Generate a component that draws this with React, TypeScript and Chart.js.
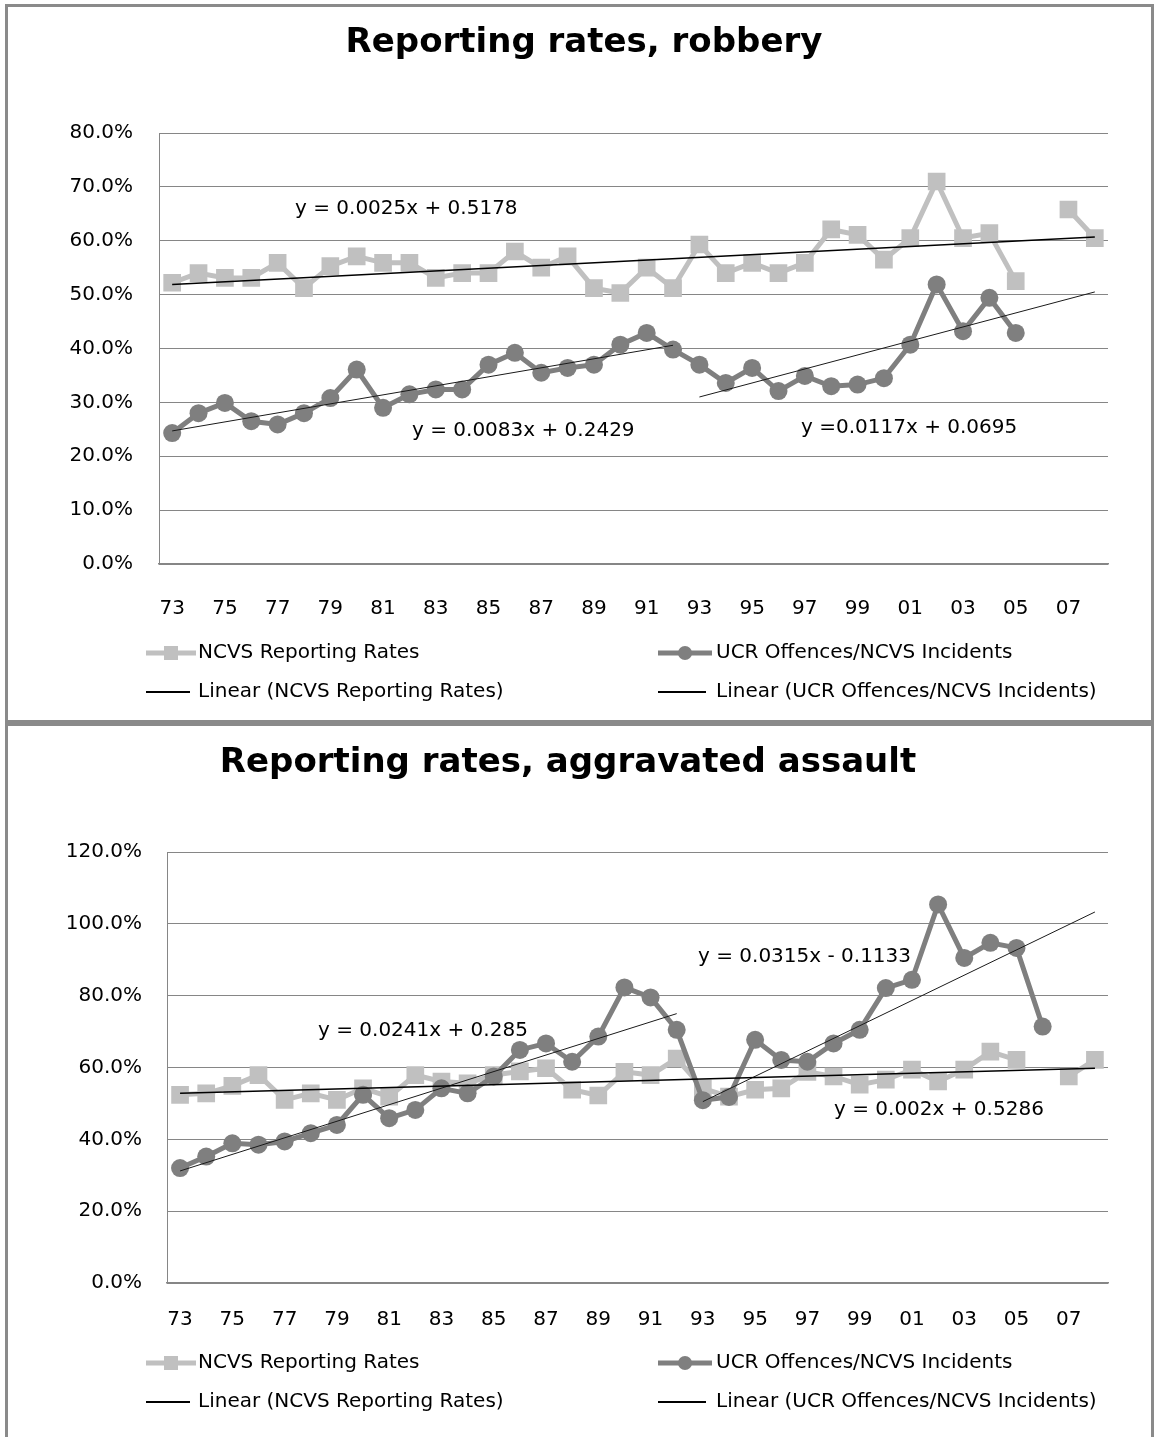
import React, { useEffect, useRef } from 'react';
import { Chart, registerables } from 'chart.js';

Chart.register(...registerables);

// ---------- data ----------
const years = ['73', '74', '75', '76', '77', '78', '79', '80', '81', '82', '83', '84', '85', '86', '87', '88', '89', '90', '91', '92', '93', '94', '95', '96', '97', '98', '99', '00', '01', '02', '03', '04', '05', '06', '07', '08'];
const labeledYears = ['73', '75', '77', '79', '81', '83', '85', '87', '89', '91', '93', '95', '97', '99', '01', '03', '05', '07'];

const robberyTicks = [0, 10, 20, 30, 40, 50, 60, 70, 80];
const assaultTicks = [0, 20, 40, 60, 80, 100, 120];

const robberyNcvs = [52.2, 54.0, 53.1, 53.1, 55.9, 51.2, 55.3, 57.1, 55.9, 55.9, 53.1, 54.0, 54.0, 58.0, 55.0, 57.1, 51.2, 50.3, 55.0, 51.2, 59.3, 54.0, 55.9, 54.0, 55.9, 62.1, 61.1, 56.5, 60.5, 71.0, 60.5, 61.4, 52.5, null, 65.8, 60.5];
const robberyUcr = [24.3, 28.0, 29.9, 26.5, 25.9, 28.0, 30.8, 36.1, 29.0, 31.5, 32.4, 32.4, 37.0, 39.2, 35.5, 36.4, 37.0, 40.7, 42.9, 39.8, 37.0, 33.6, 36.4, 32.1, 34.9, 33.0, 33.3, 34.5, 40.7, 51.9, 43.2, 49.4, 42.9, null, null, null];

const assaultNcvs = [52.4, 52.8, 54.9, 57.9, 51.0, 52.8, 51.0, 54.2, 51.9, 57.9, 56.1, 55.6, 57.9, 58.9, 59.8, 53.8, 52.2, 58.8, 57.9, 62.5, 54.2, 51.9, 53.8, 54.2, 58.8, 57.5, 55.2, 56.6, 59.4, 56.1, 59.4, 64.4, 62.1, null, 57.5, 62.1];
const assaultUcr = [32.0, 35.2, 38.9, 38.5, 39.4, 41.7, 44.0, 52.4, 45.9, 48.2, 54.2, 52.8, 57.5, 64.9, 66.7, 61.6, 68.6, 82.3, 79.5, 70.5, 50.9, 51.8, 67.7, 62.1, 61.6, 66.7, 70.5, 82.1, 84.4, 105.4, 90.5, 94.7, 93.3, 71.4, null, null];

// trend line end points [year, value]
const robberyNcvsTrend: [string, number][] = [['73', 51.9], ['08', 60.7]];
const robberyUcrTrendA: [string, number][] = [['73', 24.7], ['92', 40.6]];
const robberyUcrTrendB: [string, number][] = [['93', 31.0], ['08', 50.5]];
const assaultNcvsTrend: [string, number][] = [['73', 52.8], ['08', 59.8]];
const assaultUcrTrendA: [string, number][] = [['73', 31.2], ['92', 75.0]];
const assaultUcrTrendB: [string, number][] = [['93', 50.5], ['08', 103.3]];

const robberyEquations = ['y = 0.0025x + 0.5178', 'y = 0.0083x + 0.2429', 'y =0.0117x + 0.0695'];
const assaultEquations = ['y = 0.0241x + 0.285', 'y = 0.0315x - 0.1133', 'y = 0.002x + 0.5286'];

const ncvsLabel = 'NCVS Reporting Rates';
const ucrLabel = 'UCR Offences/NCVS Incidents';
const ncvsTrendLabel = 'Linear (NCVS Reporting Rates)';
const ucrTrendLabel = 'Linear (UCR Offences/NCVS Incidents)';

// ---------- styles ----------
const FONT = '"DejaVu Sans", sans-serif';
const ncvsColor = '#c0c0c0';
const ucrColor = '#7f7f7f';
const gridColor = '#868686';
const frameColor = '#8a8a8a';

function segment(points: [string, number][]) {
  const arr: (number | null)[] = years.map(() => null);
  points.forEach(([y, v]) => {
    arr[years.indexOf(y)] = v;
  });
  return arr;
}

type Spec = {
  title: string;
  titleX: number;
  titleY: number;
  ticks: number[];
  ncvs: (number | null)[];
  ucr: (number | null)[];
  ncvsTrend: [string, number][];
  ucrTrendA: [string, number][];
  ucrTrendB: [string, number][];
  equations: string[];
  eqPos: { x: number; y: number }[];
  height: number;
  areaTop: number;
  areaBottom: number;
  areaLeft: number;
  areaRight: number;
  yTickPadding: number;
  xTickPadding: number;
  legendRows: number[];
};

function makeDecor(spec: Spec) {
  return {
    id: 'decor',
    afterDraw(chart: any) {
      const ctx = chart.ctx as CanvasRenderingContext2D;
      ctx.save();
      // title
      ctx.fillStyle = '#000';
      ctx.font = `bold 34px ${FONT}`;
      ctx.textAlign = 'center';
      ctx.textBaseline = 'alphabetic';
      ctx.fillText(spec.title, spec.titleX, spec.titleY);
      // trend equations
      ctx.font = `20px ${FONT}`;
      ctx.textAlign = 'left';
      ctx.textBaseline = 'middle';
      spec.equations.forEach((t, i) => ctx.fillText(t, spec.eqPos[i].x, spec.eqPos[i].y));
      // legend
      const ds = chart.data.datasets;
      const items = [
        { label: ds[2].label, kind: 'ncvs', col: 0, row: 0 },
        { label: ds[1].label, kind: 'ucr', col: 1, row: 0 },
        { label: ds[0].label, kind: 'trend', col: 0, row: 1 },
        { label: ds[3].label, kind: 'trend', col: 1, row: 1 },
      ];
      const cols = [
        { x1: 146, x2: 196, tx: 198 },
        { x1: 658, x2: 712, tx: 716 },
      ];
      items.forEach((it) => {
        const c = cols[it.col];
        const y = spec.legendRows[it.row];
        if (it.kind === 'trend') {
          ctx.strokeStyle = '#000';
          ctx.lineWidth = 2;
          ctx.beginPath();
          ctx.moveTo(c.x1, y);
          ctx.lineTo(c.x2 - 6, y);
          ctx.stroke();
        } else {
          const col = it.kind === 'ncvs' ? ncvsColor : ucrColor;
          ctx.strokeStyle = col;
          ctx.fillStyle = col;
          ctx.lineWidth = 5;
          ctx.beginPath();
          ctx.moveTo(c.x1, y);
          ctx.lineTo(c.x2, y);
          ctx.stroke();
          const cx = (c.x1 + c.x2) / 2;
          ctx.beginPath();
          if (it.kind === 'ncvs') ctx.rect(cx - 7, y - 7, 14, 14);
          else ctx.arc(cx, y, 7, 0, Math.PI * 2);
          ctx.fill();
        }
        ctx.fillStyle = '#000';
        ctx.font = `20px ${FONT}`;
        ctx.fillText(it.label, c.tx, y);
      });
      ctx.restore();
    },
  };
}

function makeConfig(spec: Spec): any {
  return {
    type: 'line',
    data: {
      labels: years,
      datasets: [
        {
          label: ncvsTrendLabel,
          data: segment(spec.ncvsTrend),
          borderColor: '#000',
          borderWidth: 1.5,
          pointRadius: 0,
          spanGaps: true,
          order: 0,
        },
        {
          label: ucrLabel,
          data: spec.ucr,
          borderColor: ucrColor,
          backgroundColor: ucrColor,
          borderWidth: 5,
          pointStyle: 'circle',
          pointRadius: 9,
          pointBorderWidth: 0,
          pointBackgroundColor: ucrColor,
          spanGaps: false,
          order: 1,
        },
        {
          label: ncvsLabel,
          data: spec.ncvs,
          borderColor: ncvsColor,
          backgroundColor: ncvsColor,
          borderWidth: 5,
          pointStyle: 'rect',
          pointRadius: 12.5,
          pointBorderWidth: 0,
          pointBackgroundColor: ncvsColor,
          spanGaps: false,
          order: 2,
        },
        {
          label: ucrTrendLabel,
          data: segment(spec.ucrTrendA),
          borderColor: '#1a1a1a',
          borderWidth: 1,
          pointRadius: 0,
          spanGaps: true,
          order: 0,
        },
        {
          label: ucrTrendLabel,
          data: segment(spec.ucrTrendB),
          borderColor: '#1a1a1a',
          borderWidth: 1,
          pointRadius: 0,
          spanGaps: true,
          order: 0,
        },
      ],
    },
    options: {
      responsive: false,
      animation: false,
      devicePixelRatio: 1,
      events: [],
      elements: { line: { tension: 0 } },
      layout: { padding: { top: spec.areaTop, right: 1156 - spec.areaRight, bottom: 0, left: 0 } },
      plugins: {
        legend: { display: false },
        title: { display: false },
        tooltip: { enabled: false },
      },
      scales: {
        x: {
          type: 'category',
          offset: true,
          grid: { display: false, drawTicks: false },
          border: { display: true, color: gridColor, width: 1.5 },
          ticks: {
            autoSkip: false,
            maxRotation: 0,
            minRotation: 0,
            padding: spec.xTickPadding,
            color: '#000',
            font: { family: FONT, size: 20 },
            callback: (_v: any, index: number) => (labeledYears.includes(years[index]) ? years[index] : ''),
          },
          afterFit: (s: any) => {
            s.height = spec.height - spec.areaBottom;
          },
        },
        y: {
          min: spec.ticks[0],
          max: spec.ticks[spec.ticks.length - 1],
          grid: { color: gridColor, lineWidth: 1, drawTicks: false },
          border: { display: true, color: gridColor, width: 1 },
          ticks: {
            padding: spec.yTickPadding,
            color: '#000',
            font: { family: FONT, size: 20 },
            callback: (v: any) => Number(v).toFixed(1) + '%',
          },
          afterBuildTicks: (s: any) => {
            s.ticks = spec.ticks.map((v) => ({ value: v }));
          },
          afterFit: (s: any) => {
            s.width = spec.areaLeft;
          },
        },
      },
    },
    plugins: [makeDecor(spec)],
  };
}

const robberySpec: Spec = {
  title: 'Reporting rates, robbery',
  titleX: 584,
  titleY: 52,
  ticks: robberyTicks,
  ncvs: robberyNcvs,
  ucr: robberyUcr,
  ncvsTrend: robberyNcvsTrend,
  ucrTrendA: robberyUcrTrendA,
  ucrTrendB: robberyUcrTrendB,
  equations: robberyEquations,
  eqPos: [
    { x: 295, y: 209 },
    { x: 412, y: 431 },
    { x: 801, y: 428 },
  ],
  height: 720,
  areaTop: 133,
  areaBottom: 564,
  areaLeft: 159,
  areaRight: 1108,
  yTickPadding: 26,
  xTickPadding: 33,
  legendRows: [653, 692],
};

const assaultSpec: Spec = {
  title: 'Reporting rates, aggravated assault',
  titleX: 568,
  titleY: 52,
  ticks: assaultTicks,
  ncvs: assaultNcvs,
  ucr: assaultUcr,
  ncvsTrend: assaultNcvsTrend,
  ucrTrendA: assaultUcrTrendA,
  ucrTrendB: assaultUcrTrendB,
  equations: assaultEquations,
  eqPos: [
    { x: 318, y: 311 },
    { x: 698, y: 237 },
    { x: 834, y: 390 },
  ],
  height: 717,
  areaTop: 132,
  areaBottom: 563,
  areaLeft: 167,
  areaRight: 1108,
  yTickPadding: 25,
  xTickPadding: 25,
  legendRows: [643, 682],
};

function ChartCanvas({ spec, top }: { spec: Spec; top: number }) {
  const ref = useRef<HTMLCanvasElement | null>(null);
  useEffect(() => {
    if (!ref.current) return;
    const chart = new Chart(ref.current, makeConfig(spec));
    return () => chart.destroy();
  }, [spec]);
  return (
    <canvas
      ref={ref}
      width={1156}
      height={spec.height}
      style={{ position: 'absolute', left: 0, top, width: 1156, height: spec.height, display: 'block' }}
    />
  );
}

export default function App() {
  return (
    <div style={{ position: 'absolute', left: 0, top: 0, width: 1156, height: 1437, background: '#fff', overflow: 'hidden' }}>
      <div
        style={{
          position: 'absolute',
          left: 5,
          top: 4,
          width: 1149,
          height: 719,
          boxSizing: 'border-box',
          border: `3px solid ${frameColor}`,
        }}
      />
      <div
        style={{
          position: 'absolute',
          left: 5,
          top: 723,
          width: 1149,
          height: 730,
          boxSizing: 'border-box',
          border: `3px solid ${frameColor}`,
        }}
      />
      <ChartCanvas spec={robberySpec} top={0} />
      <ChartCanvas spec={assaultSpec} top={720} />
    </div>
  );
}
